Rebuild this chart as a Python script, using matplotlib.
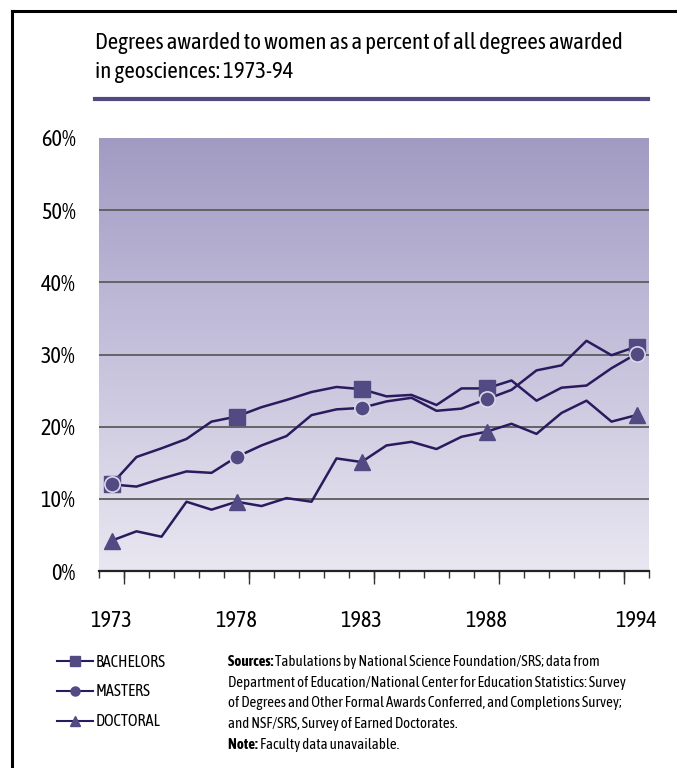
import numpy as np
import matplotlib
matplotlib.use("Agg")
import matplotlib.pyplot as plt
from matplotlib import font_manager
from matplotlib.colors import LinearSegmentedColormap
from matplotlib.lines import Line2D

# the reference uses a condensed face; take one if installed, else Roboto
fonts = font_manager.fontManager.ttflist
names = sorted({f.name for f in fonts})
narrow = [nm for nm in names if 'Narrow' in nm or 'Condensed' in nm]
base_font = narrow[0] if narrow else 'Roboto'


def has_bold(nm):
    for f in fonts:
        w = f.weight if isinstance(f.weight, int) else font_manager.weight_dict.get(f.weight, 400)
        if f.name == nm and w >= 600:
            return True
    return False


bold_narrow = [nm for nm in narrow if has_bold(nm)]
if bold_narrow:
    base_font = bold_narrow[0]
bold_font = base_font if has_bold(base_font) else 'Roboto Condensed'
plt.rcParams['font.family'] = [base_font, 'DejaVu Sans']

# data (percent of degrees awarded to women)
years = list(range(1973, 1995))
bachelors = [12.0, 15.8, 17.0, 18.3, 20.7, 21.4, 22.7, 23.7, 24.8, 25.5, 25.2,
             24.2, 24.4, 23.0, 25.3, 25.3, 26.4, 23.6, 25.4, 25.7, 28.1, 30.1]
masters = [12.0, 11.7, 12.8, 13.8, 13.6, 15.8, 17.4, 18.7, 21.6, 22.4, 22.6,
           23.5, 24.0, 22.2, 22.5, 23.8, 25.1, 27.8, 28.5, 31.9, 29.9, 31.1]
doctoral = [4.2, 5.5, 4.75, 9.6, 8.5, 9.6, 9.0, 10.1, 9.6, 15.6, 15.1,
            17.4, 17.9, 16.9, 18.6, 19.3, 20.4, 19.0, 21.9, 23.6, 20.7, 21.6]

# symbols are only drawn every five years
marker_years = [1973, 1978, 1983, 1988, 1994]
bachelors_marks = [12.0, 21.4, 25.2, 25.3, 31.1]
masters_marks = [12.0, 15.8, 22.6, 23.8, 30.1]
doctoral_marks = [4.2, 9.6, 15.1, 19.3, 21.6]

label_years = [1973, 1978, 1983, 1988, 1994]
y_ticks = [0, 10, 20, 30, 40, 50, 60]

line_color = '#2b1b5e'
mark_color = '#524a82'

W, H = 677, 768
fig = plt.figure(figsize=(W / 100, H / 100), dpi=100)
renderer = fig.canvas.get_renderer()


def fit_size(txt, width_px, family=None, weight='normal', start=12.0):
    # font size that makes txt about width_px wide
    kw = {'family': [family, 'DejaVu Sans']} if family else {}
    t = fig.text(0, 0, txt, fontsize=start, fontweight=weight, **kw)
    w = t.get_window_extent(renderer).width
    t.remove()
    return start * width_px / w


# outer frame (cut off at right and bottom like the reference)
fig.add_artist(Line2D([12 / W, 12 / W], [0, 1 - 11 / H], color='black', lw=2.2,
                      transform=fig.transFigure))
fig.add_artist(Line2D([12 / W, 1], [1 - 11 / H, 1 - 11 / H], color='black', lw=2.2,
                      transform=fig.transFigure))

# title + rule
title1 = "Degrees awarded to women as a percent of all degrees awarded"
title_fs = min(fit_size(title1, 533), 16.5)
fig.text(95 / W, 1 - 43 / H, title1, fontsize=title_fs, va='center', ha='left')
fig.text(95 / W, 1 - 72 / H, "in geosciences: 1973-94", fontsize=title_fs, va='center', ha='left')
fig.add_artist(Line2D([95 / W, 648 / W], [1 - 99 / H, 1 - 99 / H], color='#514a80', lw=3,
                      transform=fig.transFigure))

ax = fig.add_axes([99 / W, (H - 571) / H, 550 / W, 433 / H])
ax.set_xlim(1972.5, 1994.5)
ax.set_ylim(0, 60)

# gradient background
cmap = LinearSegmentedColormap.from_list('bg', ['#e9e7f1', '#c6c2dc', '#a19bc3'])
grad = np.linspace(0, 1, 256).reshape(-1, 1)
ax.imshow(grad, extent=[1972.5, 1994.5, 0, 60], origin='lower', aspect='auto',
          cmap=cmap, zorder=0)

for yv in y_ticks[1:-1]:
    ax.axhline(yv, color='#5c5c5c', lw=1.3, zorder=1)

ax.plot(years, bachelors, color=line_color, lw=1.8, zorder=3)
ax.plot(years, masters, color=line_color, lw=1.8, zorder=3)
ax.plot(years, doctoral, color=line_color, lw=1.8, zorder=3)

ax.plot(marker_years, bachelors_marks, ls='none', marker='s', ms=11, color=mark_color,
        mec=mark_color, zorder=4)
ax.plot(marker_years, masters_marks, ls='none', marker='o', ms=11, color=mark_color,
        mec='#dcd8ea', mew=1.2, zorder=5)
ax.plot(marker_years, doctoral_marks, ls='none', marker='^', ms=12, color=mark_color,
        mec=mark_color, zorder=4)

for side in ['top', 'right', 'left']:
    ax.spines[side].set_visible(False)
ax.spines['bottom'].set_linewidth(1.6)
ax.spines['bottom'].set_color('#222222')

tick_fs = min(fit_size("1973", 42), 16)
ax.set_yticks(y_ticks)
ax.set_yticklabels([f"{v}%" for v in y_ticks], fontsize=tick_fs)
ax.tick_params(axis='y', length=0, pad=17)

ax.set_xticks(label_years)
ax.set_xticklabels([str(y) for y in label_years], fontsize=tick_fs)
ax.tick_params(axis='x', which='major', length=0, pad=28)
ax.set_xticks(np.arange(1972.5, 1995, 1), minor=True)
ax.tick_params(axis='x', which='minor', length=5, width=1, color='#333333')

# longer ticks every five intervals
sec = ax.secondary_xaxis('bottom')
sec.set_xticks(np.arange(1973.5, 1995, 5))
sec.set_xticklabels([])
sec.tick_params(length=9, width=1, color='#333333')
sec.spines['bottom'].set_visible(False)

# legend
leg_fs = min(fit_size("BACHELORS", 70), 13)
handles = [
    Line2D([], [], color=line_color, lw=1.5, marker='s', ms=6.5, mfc=mark_color, mec=mark_color),
    Line2D([], [], color=line_color, lw=1.5, marker='o', ms=6.5, mfc=mark_color, mec=mark_color),
    Line2D([], [], color=line_color, lw=1.5, marker='^', ms=7.5, mfc=mark_color, mec=mark_color),
]
fig.legend(handles, ['BACHELORS', 'MASTERS', 'DOCTORAL'], loc='center left',
           bbox_to_anchor=(57 / W, 1 - 692 / H), frameon=False, fontsize=leg_fs,
           handlelength=2.2, handletextpad=0.15, labelspacing=0.78, borderaxespad=0,
           borderpad=0)

# sources note
src_lines = [
    "Tabulations by National Science Foundation/SRS; data from",
    "Department of Education/National Center for Education Statistics: Survey",
    "of Degrees and Other Formal Awards Conferred, and Completions Survey;",
    "and NSF/SRS, Survey of Earned Doctorates.",
]
src_fs = min(fit_size(src_lines[1], 395), 11.5)
bold_kw = {'family': [bold_font, base_font, 'DejaVu Sans'], 'fontweight': 'bold'}
x0 = 228 / W
y_rows = [662, 683, 703, 724, 745]
b = fig.text(x0, 1 - y_rows[0] / H, "Sources: ", fontsize=src_fs, va='center', **bold_kw)
bw = b.get_window_extent(renderer).width / W
fig.text(x0 + bw, 1 - y_rows[0] / H, src_lines[0], fontsize=src_fs, va='center')
for yy, txt in zip(y_rows[1:4], src_lines[1:]):
    fig.text(x0, 1 - yy / H, txt, fontsize=src_fs, va='center')
n = fig.text(x0, 1 - y_rows[4] / H, "Note: ", fontsize=src_fs, va='center', **bold_kw)
nw = n.get_window_extent(renderer).width / W
fig.text(x0 + nw, 1 - y_rows[4] / H, "Faculty data unavailable.", fontsize=src_fs, va='center')

fig.savefig("out.png", dpi=100)
